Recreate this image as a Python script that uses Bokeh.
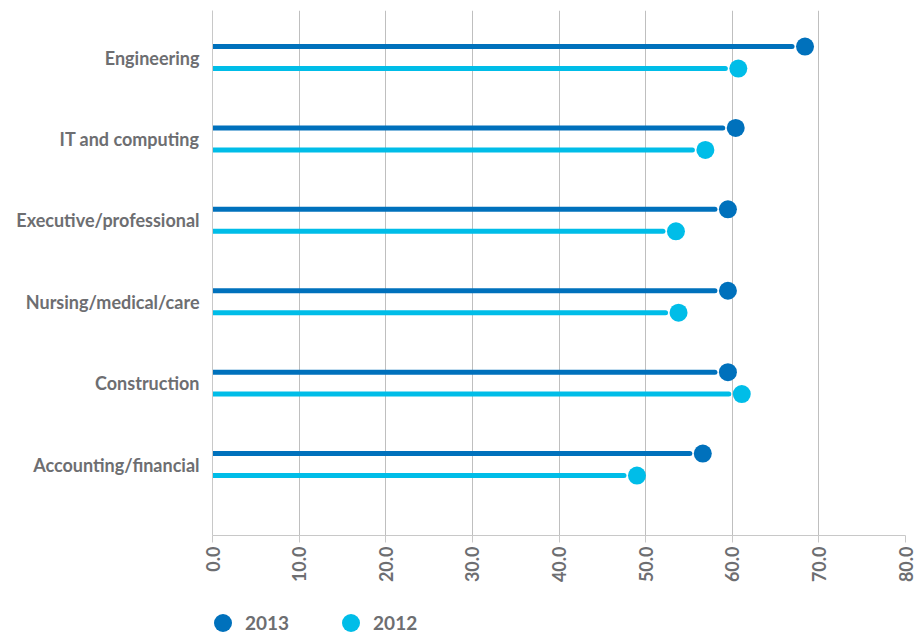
import math
from bokeh.plotting import figure
from bokeh.layouts import column
from bokeh.models import ColumnDataSource, FixedTicker, PrintfTickFormatter, Legend, LegendItem, Range1d
from bokeh.embed import file_html
from bokeh.resources import INLINE

# ---- data (top-down order as shown) ----
categories = ["Engineering", "IT and computing", "Executive/professional",
              "Nursing/medical/care", "Construction", "Accounting/financial"]
values_2013 = [68.4, 60.4, 59.5, 59.5, 59.5, 56.6]
values_2012 = [60.7, 56.9, 53.5, 53.8, 61.1, 49.0]
x_ticks = [0, 10, 20, 30, 40, 50, 60, 70, 80]
series_names = ["2013", "2012"]

C2013 = "#0071BC"
C2012 = "#00BDE8"
GRAY = "#6D6E71"
FONT = "Lato"

n = len(categories)
ypos = [n - 1 - i for i in range(n)]
off = 0.135
gap = 1.5

src13 = ColumnDataSource(dict(
    y=[v + off for v in ypos], x=values_2013, x0=[0] * n,
    x1=[v - gap for v in values_2013]))
src12 = ColumnDataSource(dict(
    y=[v - off for v in ypos], x=values_2012, x0=[0] * n,
    x1=[v - gap for v in values_2012]))

p = figure(width=917, height=585, output_backend="svg", toolbar_location=None,
           x_range=Range1d(0, 80), y_range=Range1d(-0.872, 5.578),
           min_border_left=212, min_border_right=12, min_border_top=10,
           min_border_bottom=50)
p.outline_line_color = None
p.background_fill_color = "white"
p.border_fill_color = "white"

p.segment(x0="x0", y0="y", x1="x1", y1="y", source=src13, line_color=C2013,
          line_width=5, line_cap="round")
p.segment(x0="x0", y0="y", x1="x1", y1="y", source=src12, line_color=C2012,
          line_width=5, line_cap="round")
p.scatter(x="x", y="y", source=src13, size=18, fill_color=C2013, line_color=None)
p.scatter(x="x", y="y", source=src12, size=18, fill_color=C2012, line_color=None)

# x axis
p.xaxis.ticker = FixedTicker(ticks=x_ticks)
p.xaxis.formatter = PrintfTickFormatter(format="%.1f")
p.xaxis.major_label_orientation = math.pi / 2
p.xaxis.axis_line_color = "#C8C8C8"
p.xaxis.major_tick_line_color = "#C8C8C8"
p.xaxis.major_tick_out = 7
p.xaxis.major_tick_in = 0
p.xaxis.minor_tick_line_color = None
p.xaxis.major_label_text_font = FONT
p.xaxis.major_label_text_font_style = "bold"
p.xaxis.major_label_text_font_size = "18px"
p.xaxis.major_label_text_color = GRAY
p.xaxis.major_label_standoff = 4

# y axis
p.yaxis.ticker = FixedTicker(ticks=ypos)
p.yaxis.major_label_overrides = {yv: c for yv, c in zip(ypos, categories)}
p.yaxis.axis_line_color = "#C8C8C8"
p.yaxis.major_tick_line_color = None
p.yaxis.minor_tick_line_color = None
p.yaxis.major_label_text_font = FONT
p.yaxis.major_label_text_font_style = "bold"
p.yaxis.major_label_text_font_size = "18px"
p.yaxis.major_label_text_color = GRAY
p.yaxis.major_label_standoff = 7

p.xgrid.grid_line_color = "#BFBFBF"
p.xgrid.ticker = FixedTicker(ticks=x_ticks)
p.ygrid.grid_line_color = None

# ---- legend strip (its renderers share the data but fall outside its range) ----
lg = figure(width=917, height=48, output_backend="svg", toolbar_location=None,
            x_range=Range1d(-2, -1), y_range=Range1d(-2, -1),
            x_axis_type=None, y_axis_type=None,
            min_border_left=0, min_border_right=0, min_border_top=0, min_border_bottom=0)
lg.outline_line_color = None
lg.grid.visible = False
l13 = lg.scatter(x="x", y="y", source=src13, size=18, fill_color=C2013, line_color=None)
l12 = lg.scatter(x="x", y="y", source=src12, size=18, fill_color=C2012, line_color=None)

legend = Legend(items=[LegendItem(label=series_names[0], renderers=[l13], index=0),
                       LegendItem(label=series_names[1], renderers=[l12], index=0)],
                location=(-12, -12), orientation="horizontal",
                glyph_width=45, glyph_height=45, label_standoff=0,
                spacing=39, padding=0, margin=0,
                border_line_color=None, background_fill_alpha=0,
                label_text_font=FONT, label_text_font_style="bold",
                label_text_font_size="19px", label_text_color=GRAY)
lg.add_layout(legend, "center")

layout = column(p, lg, spacing=0)
open("out.html", "w").write(file_html(layout, INLINE))
